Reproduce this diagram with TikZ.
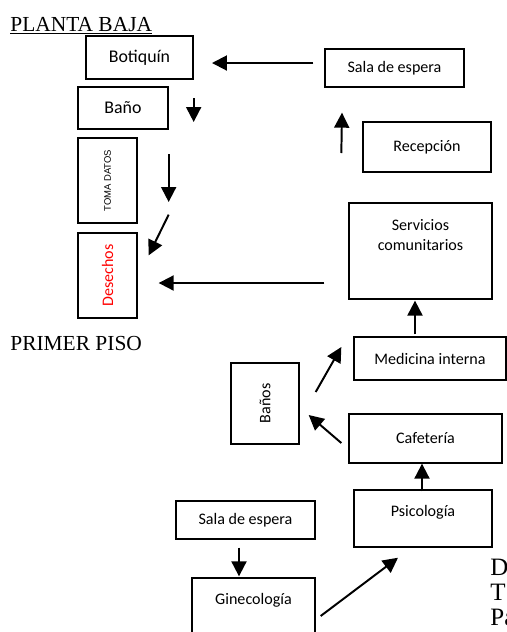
\documentclass[tikz,border=0pt]{standalone}
\usepackage{fontspec}
\setmainfont{Liberation Serif}
\newfontfamily\calibri{Carlito}
\newfontfamily\arial{Liberation Sans}
\usepackage{graphicx}
\usetikzlibrary{arrows.meta,positioning}

\begin{document}
\begin{tikzpicture}[
    x=0.56pt, y=-0.56pt,
    caja/.style={
        % the frame
        rectangle, draw=black, line width=0.75pt, inner sep=0pt,
        % the fonts
        font=\calibri\fontsize{9}{11.5}\selectfont},
    tam/.style 2 args={minimum width=#1*0.56pt, minimum height=#2*0.56pt},
    flecha/.style={-{Triangle[length=8.4pt,width=8.4pt]}, line width=1.1pt},
    titulo/.style={anchor=base west, inner sep=0pt, font=\fontsize{12}{14}\selectfont}]
  \useasboundingbox (0,0) rectangle (507,632);
  \clip (0,0) rectangle (507,632);
  % planta baja
  \node (planta) [titulo] at (10,31) {\underline{PLANTA BAJA}};
  \node (botiquin) [caja,tam={107}{43},line width=1.1pt,font=\calibri\fontsize{10}{12}\selectfont] at (139.5,57.5) {Botiquín};
  \node (bano) [caja,tam={90}{42},font=\calibri\fontsize{10}{12}\selectfont] at (123,108) {Baño};
  \node (toma) [caja,tam={59}{85}] at (107.5,180.5) {\rotatebox{90}{\arial\fontsize{5.3}{6}\selectfont TOMA DATOS}};
  \node (desechos) [caja,tam={59}{85},text=red] at (107.5,275.5) {\rotatebox{90}{Desechos}};
  \node (salaA) [caja,tam={139}{38}] at (394.5,68) {Sala de espera};
  \node (recepcion) [caja,tam={128}{50}] at (427,147) {Recepción};
  \node (servicios) [caja,minimum width=143*0.56pt,align=center,text height=26.6pt,text depth=27.1pt] at (420.5,251) {Servicios\\comunitarios};
  \draw[flecha] ([shift={(-11,-5)}]salaA.west) -- ([shift={(18,5.5)}]botiquin.east);
  \draw[flecha] ([shift={(25,-10)}]bano.east) -- ([shift={(25,14)}]bano.east);
  \draw[flecha] ([shift={(31,-26.5)}]toma.east) -- ([shift={(31,21.5)}]toma.east);
  \draw[flecha] ([shift={(31,-9)}]toma.south east) -- ([shift={(11,23)}]desechos.north east);
  \draw[flecha] ([shift={(-24,32)}]servicios.west) -- ([shift={(21,7.5)}]desechos.east);
  \draw[flecha] ([shift={(-21,6)}]recepcion.west) -- ([shift={(-52.5,25)}]salaA.south);
  % primer piso
  \node (primer) [titulo] at (10,350) {PRIMER PISO};
  \node (medicina) [caja,tam={152}{43}] at (430,358.5) {Medicina interna};
  \node (banos) [caja,tam={68}{81}] at (265,403.5) {\rotatebox{90}{Baños}};
  \node (cafeteria) [caja,tam={153}{49}] at (425.5,438.5) {Cafetería};
  \node (psicologia) [caja,minimum width=138*0.56pt,text height=14.6pt,text depth=17.4pt] at (423,518.5) {Psicología};
  \node (salaB) [caja,tam={139}{38}] at (245.5,520) {Sala de espera};
  \node (ginecologia) [caja,minimum width=123*0.56pt,text height=15.1pt,text depth=24.1pt] at (253.5,613) {Ginecología};
  \draw[flecha] ([shift={(-15,-2)}]medicina.north) -- ([shift={(-5.5,1)}]servicios.south);
  \draw[flecha] ([shift={(16,-11.5)}]banos.east) -- ([shift={(-12,-11.5)}]medicina.west);
  \draw[flecha] ([shift={(-7,4.5)}]cafeteria.west) -- ([shift={(9,11.5)}]banos.east);
  \draw[flecha] ([shift={(-1,2)}]psicologia.north) -- ([shift={(-3.5,0)}]cafeteria.south);
  \draw[flecha] ([shift={(-6.5,8)}]salaB.south) -- ([shift={(-14.5,-1)}]ginecologia.north);
  \draw[flecha] ([shift={(5,3)}]ginecologia.east) -- ([shift={(-25,10)}]psicologia.south);
  % texto cortado a la derecha
  \node (d) [titulo,font=\fontsize{14}{16}\selectfont] at (490,575) {D};
  \node (t) [titulo,font=\fontsize{14}{16}\selectfont] at (490,600) {T};
  \node (p) [titulo,font=\fontsize{14}{16}\selectfont] at (490,625) {Pa};
\end{tikzpicture}
\end{document}
